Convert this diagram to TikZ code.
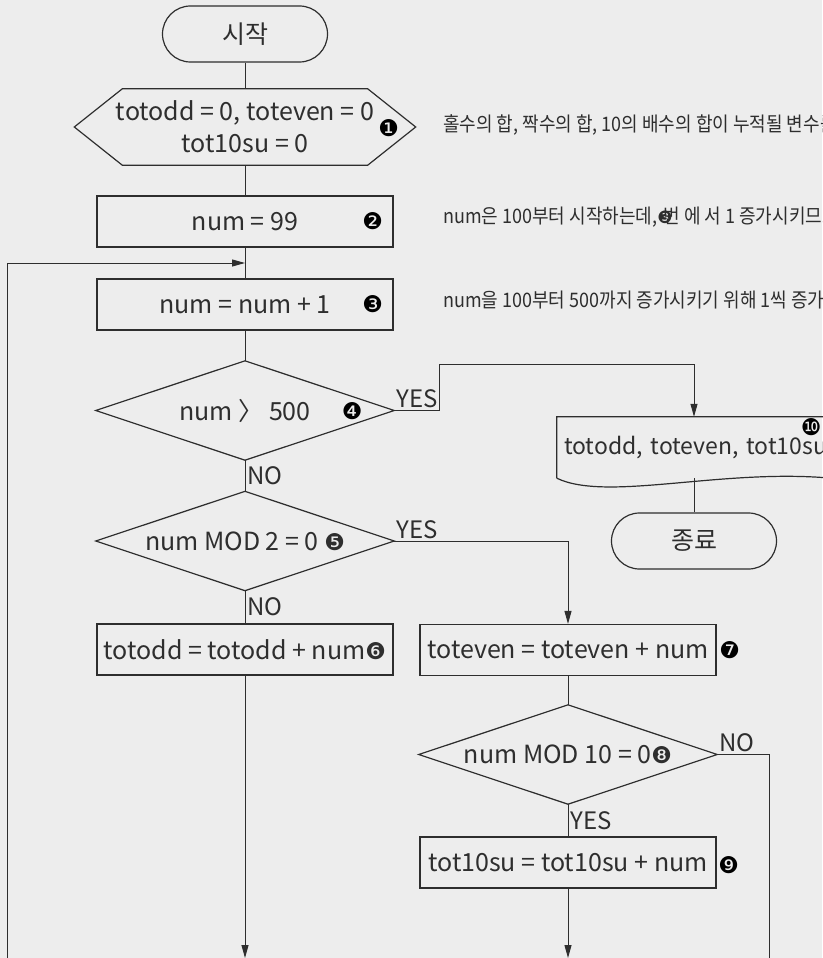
\documentclass[tikz,border=0pt]{standalone}
\usepackage{fontspec}
\setmainfont{Noto Sans CJK KR}
\newfontfamily\markfont{DejaVu Sans}
\newfontfamily\notefont[FakeStretch=0.9]{Noto Sans CJK KR}
\usetikzlibrary{arrows.meta}
\usepackage{xcolor}
\definecolor{paper}{HTML}{EDEDED}
\definecolor{ink}{HTML}{2E2E2E}

\begin{document}
\begin{tikzpicture}[x=1pt, y=-1pt,
  outline/.style={draw=ink, line width=1.2pt},
  terminal/.style={outline, rounded corners=28pt, minimum width=165pt, minimum height=56pt,
    text=ink, font=\fontsize{25}{32}\selectfont},
  process/.style={outline, minimum width=296pt, minimum height=51pt, inner sep=0pt,
    text=ink, font=\fontsize{25}{32}\selectfont},
  decision/.style={minimum width=298pt, minimum height=99pt, inner sep=0pt,
    text=ink, font=\fontsize{25}{32}\selectfont},
  prep/.style={minimum width=341pt, minimum height=76pt, inner sep=0pt, align=center,
    text=ink, font=\fontsize{25}{32}\selectfont},
  output/.style={text width=260pt, inner xsep=7pt, minimum height=61pt, align=left,
    text=ink, font=\fontsize{23}{30}\selectfont},
  tag/.style={inner sep=0pt, text=black, font=\markfont\fontsize{23}{23}\selectfont},
  branch/.style={inner sep=2pt, text=ink, font=\fontsize{24}{24}\selectfont},
  note/.style={anchor=west, inner sep=0pt, text=ink, font=\notefont\fontsize{20}{22}\selectfont},
  line/.style={draw=ink, line width=1pt},
  flow/.style={line, -{Triangle[length=13pt, width=7pt]}}
]
  \path[fill=paper, use as bounding box] (0,0) rectangle (822,958);

  \node[terminal] (start) at (245, 34) {시작};
  \node[prep] (init) at (245, 127) {totodd = 0, toteven = 0\\tot10su = 0};
  \node[process] (set99) at (245, 221.5) {num = 99};
  \node[process] (inc) at (245, 304.5) {num = num + 1};
  \node[decision] (dia1) at (245, 410.5) {num 〉 500\hspace{30pt}};
  \node[decision] (dia2) at (245, 541) {num MOD 2 = 0 {\markfont\fontsize{23}{23}\selectfont ❺}};
  \node[process] (odd) at (245, 649.5) {totodd = totodd + num{\markfont\fontsize{23}{23}\selectfont ❻}};
  \node[process] (even) at (568, 650) {toteven = toteven + num};
  \node[decision] (dia3) at (568, 754.5) {num MOD 10 = 0{\markfont\fontsize{23}{23}\selectfont ❽}};
  \node[process] (ten) at (568, 862.5) {tot10su = tot10su + num};
  \node[output] (out) at (694, 447.5) {\mbox{totodd, toteven, tot10su}};
  \node[terminal] (stop) at (694, 541) {종료};

  \draw[outline] (init.west) -- ([xshift=48pt]init.north west) -- ([xshift=-48pt]init.north east)
    -- (init.east) -- ([xshift=-48pt]init.south east) -- ([xshift=48pt]init.south west) -- cycle;
  \draw[outline] (dia1.west) -- (dia1.north) -- (dia1.east) -- (dia1.south) -- cycle;
  \draw[outline] (dia2.west) -- (dia2.north) -- (dia2.east) -- (dia2.south) -- cycle;
  \draw[outline] (dia3.west) -- (dia3.north) -- (dia3.east) -- (dia3.south) -- cycle;
  \draw[outline] (out.south west) -- (out.north west) -- (out.north east) -- (out.south east)
    .. controls ([xshift=-110pt, yshift=10pt]out.south east)
    and ([xshift=50pt, yshift=-24pt]out.south west) .. (out.south west);

  \node[tag] (m1) at ([xshift=-27pt, yshift=-1pt]init.east) {❶};
  \node[tag] (m2) at ([xshift=-21pt]set99.east) {❷};
  \node[tag] (m3) at ([xshift=-21pt]inc.east) {❸};
  \node[tag] (m4) at ([xshift=-42pt, yshift=-1pt]dia1.east) {❹};
  \node[tag] (m7) at ([xshift=13pt]even.east) {❼};
  \node[tag] (m9) at ([xshift=12pt, yshift=-3pt]ten.east) {❾};
  \node[tag] (m10) at ([xshift=-20pt, yshift=-10pt]out.north east) {❿};

  \node[branch, anchor=south west] (yes1) at (dia1.east) {YES};
  \node[branch, anchor=south west] (yes2) at (dia2.east) {YES};
  \node[branch, anchor=south west] (no3) at (dia3.east) {NO};

  \node[note] (note1) at (443, 125) {홀수의 합, 짝수의 합, 10의 배수의 합이 누적될 변수를};
  \node[note] (note2) at (443, 217) {num은 100부터 시작하는데,{\markfont\fontsize{17}{17}\selectfont ❸}\hspace{-9pt}번 에 서 1 증가시키므로};
  \node[note] (note3) at (443, 300) {num을 100부터 500까지 증가시키기 위해 1씩 증가시키};

  \coordinate (join) at (245, 263);
  \coordinate (loopfoot) at (7, 960);
  \coordinate (yesbend) at (439, 364);
  \coordinate (oddfoot) at (245, 958);
  \coordinate (evenfoot) at (568, 958);
  \coordinate (nofoot) at (769, 960);

  \draw[line] (start) -- (init);
  \draw[line] (init) -- (set99);
  \draw[line] (set99) -- (inc);
  \draw[flow] (loopfoot) |- (join);
  \draw[line] (inc) -- (dia1);
  \draw[line] (dia1) -- node[branch, right] (no1) {NO} (dia2);
  \draw[flow] (dia1.east) -| (yesbend) -| (out.north);
  \draw[line] (out.south) -- (stop);
  \draw[line] (dia2) -- node[branch, right] (no2) {NO} (odd);
  \draw[flow] (dia2.east) -| (even.north);
  \draw[line] (even) -- (dia3);
  \draw[line] (dia3) -- node[branch, right] (yes3) {YES} (ten);
  \draw[line] (dia3.east) -| (nofoot);
  \draw[flow] (odd) -- (oddfoot);
  \draw[flow] (ten) -- (evenfoot);
\end{tikzpicture}
\end{document}
